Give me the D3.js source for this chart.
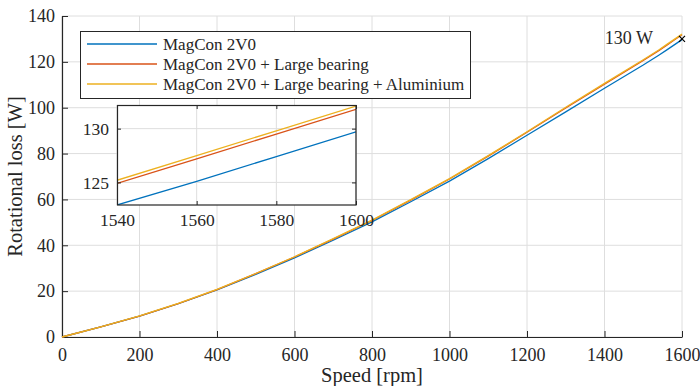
<!DOCTYPE html>
<html lang="en">
  <head>
    <meta charset="utf-8" />
    <title>Rotational loss</title>
    <script src="https://d3js.org/d3.v7.min.js"></script>
    <style>
      body { margin: 0; background: #fff; }
    </style>
  </head>
  <body>
    <script>
      // speed samples [rpm]
      const speed = [0, 100, 200, 300, 400, 500, 600, 700, 800, 900, 1000, 1100, 1200, 1300, 1400, 1500, 1540, 1560, 1580, 1600];

      // rotational loss [W]
      const magcon = [0, 4.4, 9.1, 14.5, 20.5, 27.3, 34.5, 42.2, 50.2, 59.0, 68.0, 77.8, 88.0, 98.2, 108.5, 118.6, 122.9, 125.1, 127.4, 129.7];
      const largeBearing = [0, 4.4, 9.15, 14.6, 20.7, 27.6, 34.9, 42.7, 50.8, 59.7, 68.9, 78.9, 89.3, 99.9, 110.3, 120.6, 124.9, 127.2, 129.5, 131.8];
      const aluminium = [0, 4.4, 9.2, 14.7, 20.8, 27.7, 35.0, 42.9, 51.0, 59.9, 69.1, 79.1, 89.5, 100.2, 110.6, 120.9, 125.2, 127.5, 129.8, 132.1];

      const names = ["MagCon 2V0", "MagCon 2V0 + Large bearing", "MagCon 2V0 + Large bearing + Aluminium"];
      const colors = ["#0072BD", "#D95319", "#EDB120"];
      const series = [magcon, largeBearing, aluminium];

      const xTicks = [0, 200, 400, 600, 800, 1000, 1200, 1400, 1600];
      const yTicks = [0, 20, 40, 60, 80, 100, 120, 140];
      const insetXTicks = [1540, 1560, 1580, 1600];
      const insetYTicks = [125, 130];

      const w = 700;
      const h = 386;
      const axisColor = "#262626";
      const gridColor = "#dedede";
      const serif = "'Liberation Serif', 'Times New Roman', serif";

      const svg = d3.select("body").append("svg").attr("width", w).attr("height", h)
        .style("font-family", serif);

      const x = d3.scaleLinear().domain([0, 1600]).range([62, 682]);
      const y = d3.scaleLinear().domain([0, 140]).range([337, 16]);

      // grid
      svg.append("g").selectAll("line").data(xTicks).enter().append("line")
        .attr("x1", d => x(d)).attr("x2", d => x(d))
        .attr("y1", y(0)).attr("y2", y(140))
        .attr("stroke", gridColor).attr("stroke-width", 1);
      svg.append("g").selectAll("line").data(yTicks).enter().append("line")
        .attr("x1", x(0)).attr("x2", x(1600))
        .attr("y1", d => y(d)).attr("y2", d => y(d))
        .attr("stroke", gridColor).attr("stroke-width", 1);

      // axes (inward ticks)
      const xAxis = d3.axisBottom(x).tickValues(xTicks).tickFormat(d3.format("d"))
        .tickSizeInner(-6).tickSizeOuter(0).tickPadding(11);
      const yAxis = d3.axisLeft(y).tickValues(yTicks).tickFormat(d3.format("d"))
        .tickSizeInner(-6).tickSizeOuter(0).tickPadding(11);

      const gx = svg.append("g").attr("transform", "translate(0," + y(0) + ")").call(xAxis);
      const gy = svg.append("g").attr("transform", "translate(" + x(0) + ",0)").call(yAxis);
      [gx, gy].forEach(g => {
        g.attr("font-family", null).attr("font-size", null);
        g.select(".domain").attr("stroke", axisColor).attr("stroke-width", 1.2);
        g.selectAll(".tick line").attr("stroke", axisColor);
        g.selectAll(".tick text")
          .style("font-family", serif).style("font-size", "18px").attr("fill", axisColor);
      });
      gy.selectAll(".tick text").attr("dx", "4px");

      // curves
      const line = d3.line().x((d, i) => x(speed[i])).y(d => y(d));
      series.forEach((s, k) => {
        svg.append("path").datum(s).attr("d", line)
          .attr("fill", "none").attr("stroke", colors[k]).attr("stroke-width", 1.3);
      });

      // 130 W marker
      const mark = svg.append("g").attr("transform", "translate(" + x(1600) + "," + y(130) + ")");
      mark.append("path").attr("d", "M-3,-3L3,3M-3,3L3,-3").attr("stroke", "#000").attr("stroke-width", 1.2);
      svg.append("text").attr("x", 653).attr("y", 44).attr("text-anchor", "end")
        .attr("fill", axisColor).style("font-size", "18px").text("130 W");

      // axis labels
      svg.append("text").attr("x", (x(0) + x(1600)) / 2).attr("y", 382).attr("text-anchor", "middle")
        .attr("fill", axisColor).style("font-size", "20.5px").text("Speed [rpm]");
      svg.append("text").attr("transform", "translate(22," + (y(0) + y(140)) / 2 + ") rotate(-90)")
        .attr("text-anchor", "middle").attr("fill", axisColor).style("font-size", "20.5px")
        .text("Rotational loss [W]");

      // legend
      const legend = svg.append("g");
      legend.append("rect").attr("x", 80.5).attr("y", 31.5).attr("width", 390).attr("height", 67)
        .attr("fill", "#fff").attr("stroke", axisColor).attr("stroke-width", 1);
      names.forEach((n, k) => {
        const ly = 44 + k * 20;
        legend.append("line").attr("x1", 87).attr("x2", 157).attr("y1", ly).attr("y2", ly)
          .attr("stroke", colors[k]).attr("stroke-width", 1.3);
        legend.append("text").attr("x", 163).attr("y", ly + 6).attr("fill", axisColor)
          .style("font-size", "17px").text(n);
      });

      // inset
      const ix = d3.scaleLinear().domain([1540, 1600]).range([117, 356]);
      const iy = d3.scaleLinear().domain([122.9, 132.2]).range([205, 105]);
      const inset = svg.append("g");
      inset.append("rect").attr("x", 117).attr("y", 105).attr("width", 239).attr("height", 100).attr("fill", "#fff");
      inset.selectAll(".gx").data(insetXTicks).enter().append("line")
        .attr("x1", d => ix(d)).attr("x2", d => ix(d)).attr("y1", 105).attr("y2", 205)
        .attr("stroke", gridColor);
      inset.selectAll(".gy").data(insetYTicks).enter().append("line")
        .attr("x1", 117).attr("x2", 356).attr("y1", d => iy(d)).attr("y2", d => iy(d))
        .attr("stroke", gridColor);

      svg.append("clipPath").attr("id", "insetClip").append("rect")
        .attr("x", 117).attr("y", 105).attr("width", 239).attr("height", 100);
      const iline = d3.line().defined((d, i) => speed[i] >= 1500).x((d, i) => ix(speed[i])).y(d => iy(d));
      series.forEach((s, k) => {
        inset.append("path").datum(s).attr("d", iline).attr("clip-path", "url(#insetClip)")
          .attr("fill", "none").attr("stroke", colors[k]).attr("stroke-width", 1.3);
      });

      const ixAxis = d3.axisBottom(ix).tickValues(insetXTicks).tickFormat(d3.format("d"))
        .tickSizeInner(-4).tickSizeOuter(0).tickPadding(9);
      const iyAxis = d3.axisLeft(iy).tickValues(insetYTicks).tickFormat(d3.format("d"))
        .tickSizeInner(-4).tickSizeOuter(0).tickPadding(8);
      const gix = inset.append("g").attr("transform", "translate(0,205)").call(ixAxis);
      const giy = inset.append("g").attr("transform", "translate(117,0)").call(iyAxis);
      const gixTop = inset.append("g").attr("transform", "translate(0,105)")
        .call(d3.axisTop(ix).tickValues(insetXTicks).tickSizeInner(-4).tickSizeOuter(0).tickFormat(""));
      const giyRight = inset.append("g").attr("transform", "translate(356,0)")
        .call(d3.axisRight(iy).tickValues(insetYTicks).tickSizeInner(-4).tickSizeOuter(0).tickFormat(""));
      [gix, giy, gixTop, giyRight].forEach(g => {
        g.attr("font-family", null).attr("font-size", null);
        g.select(".domain").remove();
        g.selectAll(".tick line").attr("stroke", axisColor);
        g.selectAll(".tick text")
          .style("font-family", serif).style("font-size", "17.5px").attr("fill", axisColor);
      });
      inset.append("rect").attr("x", 117.5).attr("y", 105.5).attr("width", 238.5).attr("height", 99.5)
        .attr("fill", "none").attr("stroke", axisColor).attr("stroke-width", 1.2);
    </script>
  </body>
</html>
